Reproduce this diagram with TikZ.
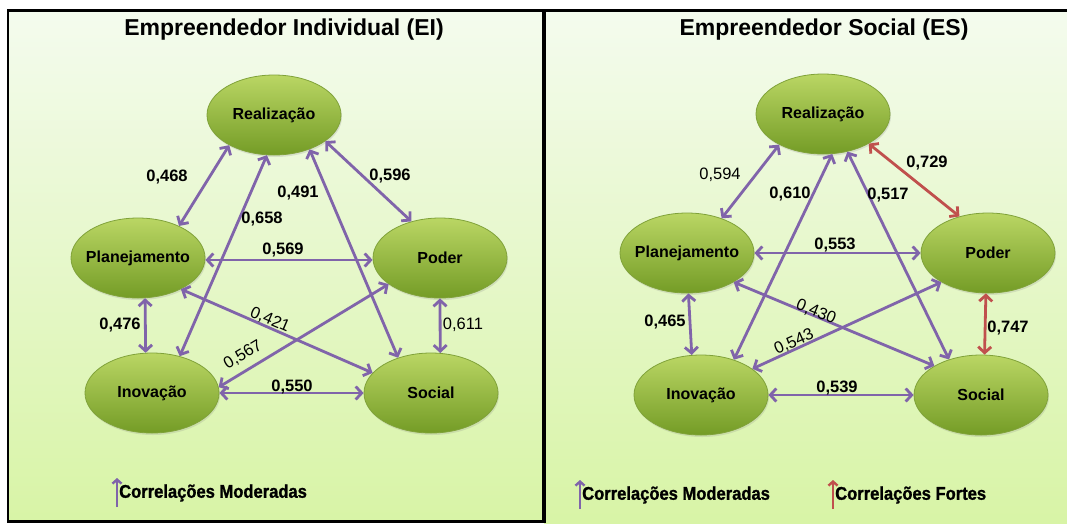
\documentclass[tikz,border=0pt]{standalone}
\usepackage{fontspec}
\setmainfont{Liberation Sans}
\newfontfamily\legfont{Liberation Sans Bold}[FakeBold=1.2, FakeStretch=0.9]
\usetikzlibrary{arrows.meta,shapes.geometric,shadows}
\definecolor{bgtop}{RGB}{244,251,238}
\definecolor{bgbot}{RGB}{216,244,166}
\definecolor{ngtop}{RGB}{186,214,100}
\definecolor{ngbot}{RGB}{116,156,38}
\definecolor{ngline}{RGB}{128,162,58}
\definecolor{purp}{RGB}{128,100,170}
\definecolor{redc}{RGB}{192,80,77}
\newcommand\ctext[1]{\makebox[0pt]{#1}}
\begin{document}
\begin{tikzpicture}[x=1pt,y=-1pt,
  ell/.style={ellipse, minimum width=134pt, minimum height=80pt, inner sep=0pt,
    top color=ngtop, bottom color=ngbot, draw=ngline, line width=0.8pt,
    font=\fontsize{16}{16}\selectfont\bfseries,
    drop shadow={opacity=0.2, shadow xshift=1pt, shadow yshift=-2pt}},
  rel/.style={draw=purp, line width=2.8pt, >={Straight Barb[length=6pt,width=13pt]}, <->},
  strong/.style={rel, draw=redc},
  lab/.style={font=\fontsize{16.5}{17}\selectfont\bfseries, inner sep=0pt},
  labn/.style={font=\fontsize{16.5}{17}\selectfont, inner sep=0pt},
  ttl/.style={font=\fontsize{23}{23}\selectfont\bfseries, inner sep=0pt},
  legt/.style={font=\fontsize{18.4}{19}\legfont, anchor=west, inner sep=0pt},
  legarr/.style={line width=2.4pt, -{Straight Barb[length=4pt,width=9pt]}}
]
\useasboundingbox (0,0) rectangle (1067,523);
\fill[white] (0,0) rectangle (1067,523);
% backgrounds
\shade[top color=bgtop, bottom color=bgbot] (8,10) rectangle (544,522);
\shade[top color=bgtop, bottom color=bgbot] (544,10) rectangle (1067,523);
% borders
\draw[line width=2.5pt] (1067,10.5) -- (8,10.5) -- (8,521.5) -- (544,521.5);
\draw[line width=4pt] (544,9.5) -- (544,523);

% titles
\node[ttl] (t1) at (284,30) {Empreendedor Individual (EI)};
\node[ttl] (t2) at (824,30) {Empreendedor Social (ES)};

% ---------- left panel ----------
\node[ell] (lR) at (274,115) {\ctext{Realização}};
\node[ell] (lP) at (138,258) {\ctext{Planejamento}};
\node[ell] (lO) at (440,258) {\ctext{Poder}};
\node[ell] (lI) at (152,393) {\ctext{Inovação}};
\node[ell] (lS) at (431,393) {\ctext{Social}};

\draw[rel] (lR.214) -- (lP.38.5);
\draw[rel] (lR.-27.7) -- (lO.128);
\draw[rel] (lR.260.5) -- (lI.53);
\draw[rel] (lR.-44.3) -- (lS.133.5);
\draw[rel] ([yshift=-2pt]lP.east) -- ([yshift=-2pt]lO.west);
\draw[rel] (lP.-36.7) -- (lS.161.8);
\draw[rel] (lO.207.8) -- (lI.5);
\draw[rel] (lP.-80) -- (lI.99);
\draw[rel] (lO.south) -- (lS.77.6);
\draw[rel] (lI.east) -- (lS.west);

\node[lab] (l1) at (167,177) {0,468};
\node[lab] (l2) at (390,176) {0,596};
\node[lab] (l3) at (262,219) {0,658};
\node[lab] (l4) at (298,193) {0,491};
\node[lab] (l5) at (283,250) {0,569};
\node[labn, rotate=-23] (l6) at (270,320) {0,421};
\node[labn, rotate=31] (l7) at (243,355) {0,567};
\node[lab] (l8) at (120,325) {0,476};
\node[labn] (l9) at (463,325) {0,611};
\node[lab] (l10) at (292,387) {0,550};

% legend left
\coordinate (lga) at (117,507);
\coordinate (lgb) at (117,478);
\draw[legarr, purp] (lga) -- (lgb);
\node[legt] (lgt) at (119,493) {Correlações Moderadas};

% ---------- right panel ----------
\node[ell] (rR) at (823,114) {\ctext{Realização}};
\node[ell] (rP) at (687,253) {\ctext{Planejamento}};
\node[ell] (rO) at (988,253) {\ctext{Poder}};
\node[ell] (rI) at (701,395) {\ctext{Inovação}};
\node[ell] (rS) at (981,395) {\ctext{Social}};

\draw[rel] (rR.215.7) -- (rP.45.8);
\draw[strong] (rR.-33.4) -- (rO.128.5);
\draw[rel] (rR.-77.2) -- (rI.47.2);
\draw[rel] (rR.-57.8) -- (rS.132.8);
\draw[rel] (rP.east) -- (rO.west);
\draw[rel] (rP.-32.7) -- (rS.148);
\draw[rel] (rO.212.6) -- (rI.27);
\draw[rel] (rP.-88) -- (rI.103);
\draw[strong] (rO.-93) -- (rS.85);
\draw[rel] (rI.east) -- (rS.west);

\node[labn] (r1) at (720,175) {0,594};
\node[lab] (r2) at (927,163) {0,729};
\node[lab] (r3) at (790,194) {0,610};
\node[lab] (r4) at (888,195) {0,517};
\node[lab] (r5) at (835,245) {0,553};
\node[labn, rotate=-22] (r6) at (816,312) {0,430};
\node[labn, rotate=24] (r7) at (794,342) {0,543};
\node[lab] (r8) at (665,322) {0,465};
\node[lab] (r9) at (1008,328) {0,747};
\node[lab] (r10) at (837,388) {0,539};

% legend right
\coordinate (rga) at (580,509);
\coordinate (rgb) at (580,480);
\draw[legarr, purp] (rga) -- (rgb);
\node[legt] (rgt1) at (582,495) {Correlações Moderadas};
\coordinate (rgc) at (833,509);
\coordinate (rgd) at (833,480);
\draw[legarr, redc] (rgc) -- (rgd);
\node[legt] (rgt2) at (835,495) {Correlações Fortes};
\end{tikzpicture}
\end{document}
